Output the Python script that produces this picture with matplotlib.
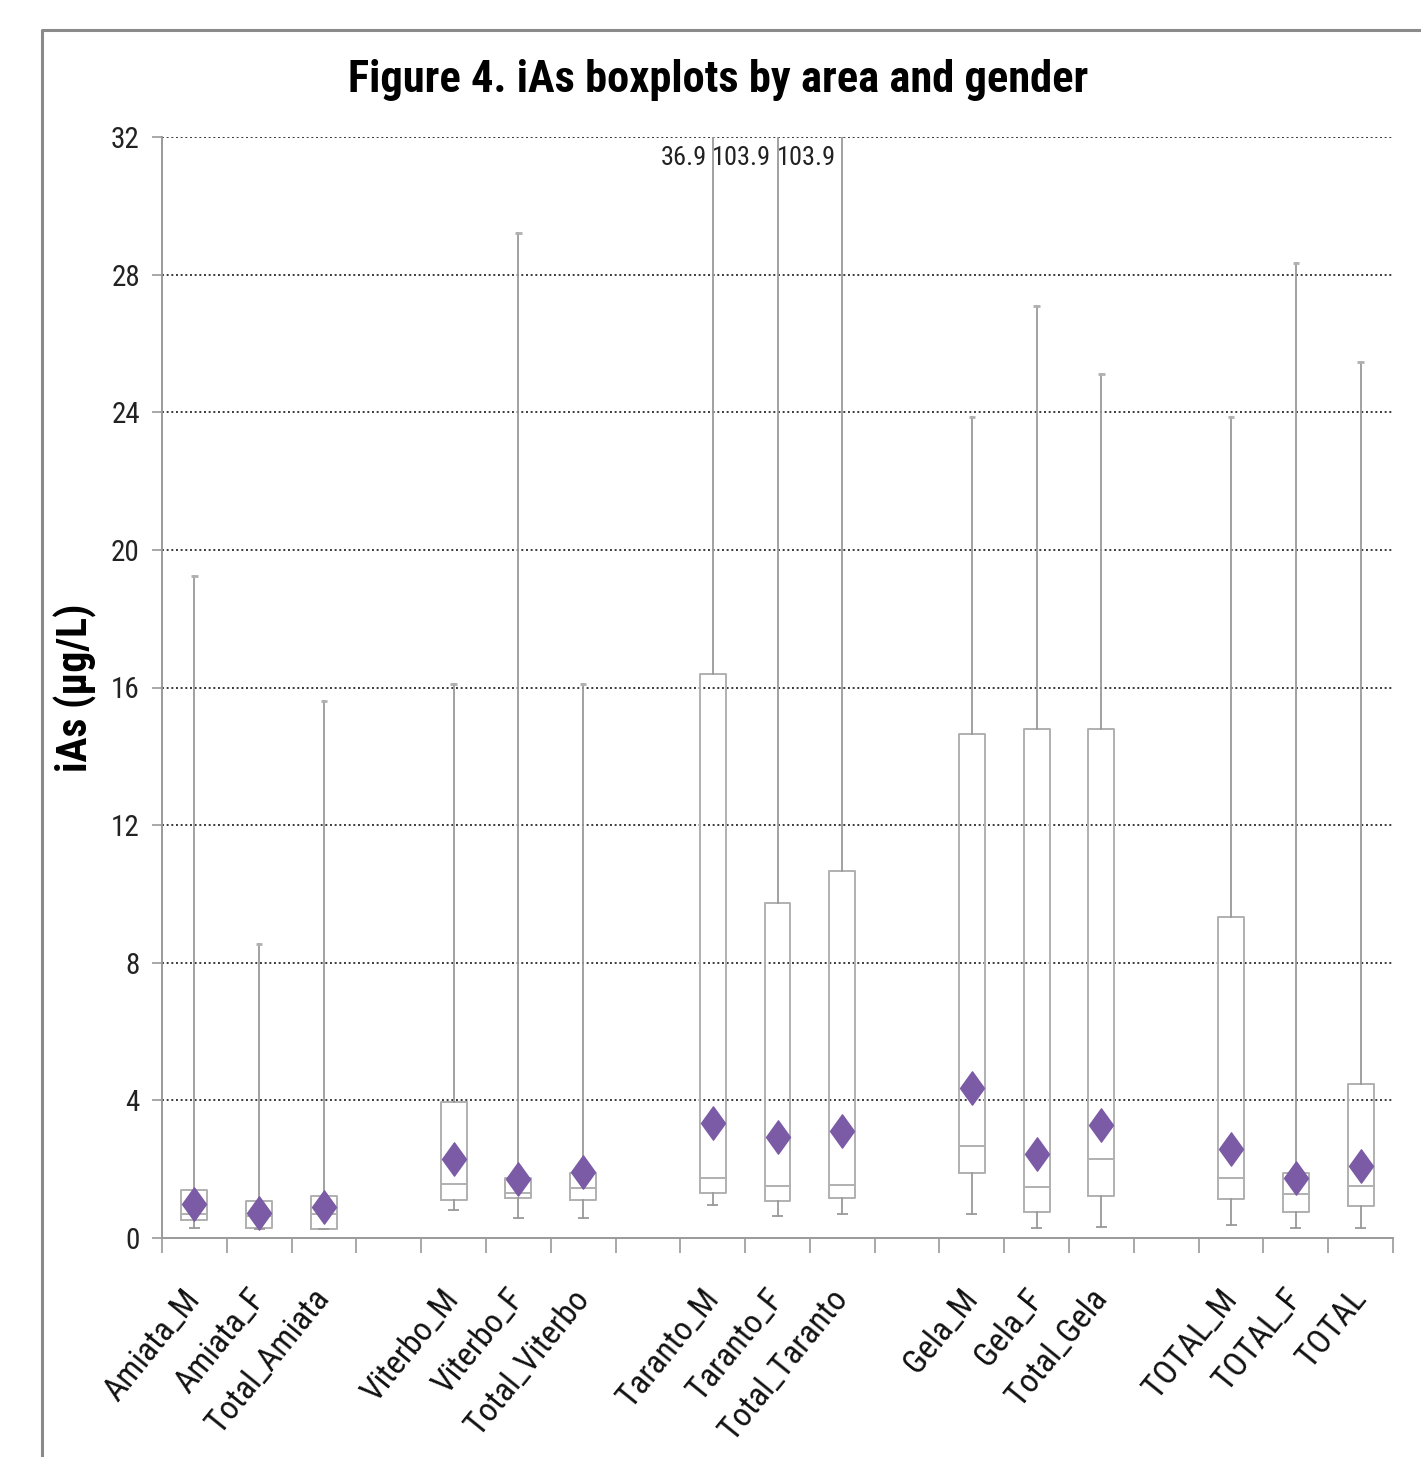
import matplotlib
matplotlib.use("Agg")
import matplotlib.pyplot as plt
from matplotlib import font_manager
from matplotlib.lines import Line2D
from matplotlib.path import Path

# ---------------- data ----------------
categories = ["Amiata_M", "Amiata_F", "Total_Amiata",
              "Viterbo_M", "Viterbo_F", "Total_Viterbo",
              "Taranto_M", "Taranto_F", "Total_Taranto",
              "Gela_M", "Gela_F", "Total_Gela",
              "TOTAL_M", "TOTAL_F", "TOTAL"]
whisker_low = [0.29, 0.27, 0.27, 0.80, 0.58, 0.58, 0.95, 0.64, 0.69,
               0.69, 0.29, 0.32, 0.39, 0.29, 0.29]
q1 = [0.52, 0.29, 0.27, 1.10, 1.15, 1.10, 1.32, 1.08, 1.16,
      1.90, 0.76, 1.23, 1.12, 0.75, 0.93]
median = [0.69, 0.64, 0.69, 1.56, 1.31, 1.46, 1.73, 1.52, 1.55,
          2.66, 1.49, 2.31, 1.73, 1.27, 1.51]
q3 = [1.39, 1.08, 1.22, 3.95, 1.73, 1.90, 16.4, 9.75, 10.68,
      14.65, 14.8, 14.8, 9.34, 1.90, 4.48]
whisker_high = [19.25, 8.55, 15.6, 16.1, 29.2, 16.1, 36.9, 103.9, 103.9,
                23.85, 27.1, 25.1, 23.85, 28.35, 25.45]
mean = [1.00, 0.74, 0.89, 2.29, 1.72, 1.93, 3.34, 2.95, 3.12,
        4.36, 2.45, 3.29, 2.59, 1.75, 2.10]
yticks = [0, 4, 8, 12, 16, 20, 24, 28, 32]
clipped_labels = {6: "36.9", 7: "103.9", 8: "103.9"}

# ---------------- fonts ----------------
names = {f.name for f in font_manager.fontManager.ttflist}
FONT = "DejaVu Sans"
for cand in ["Liberation Sans Narrow", "Roboto Condensed", "Open Sans Condensed",
             "Lato", "Open Sans"]:
    if cand in names:
        FONT = cand
        break
plt.rcParams["font.family"] = [FONT, "DejaVu Sans"]

# positions with a one-slot gap between the groups
positions = []
p = 0
for i in range(len(categories)):
    if i > 0 and i % 3 == 0:
        p += 1
    positions.append(p)
    p += 1
n_slots = positions[-1] + 1

W, H = 1421, 1457
fig = plt.figure(figsize=(W / 100, H / 100), dpi=100)
ax = fig.add_axes([162 / W, 1 - 1238 / H, (1393 - 162) / W, (1238 - 137) / H])

GRAY = "#9a9a9a"
BOXC = "#b0b0b0"
PURPLE = "#7b5aa6"

stats = []
for i in range(len(categories)):
    stats.append(dict(label=categories[i], whislo=whisker_low[i], q1=q1[i],
                      med=median[i], q3=q3[i], whishi=whisker_high[i],
                      mean=mean[i], fliers=[]))

diamond = Path([(0, 1.0), (0.72, 0), (0, -1.0), (-0.72, 0), (0, 1.0)],
               [Path.MOVETO, Path.LINETO, Path.LINETO, Path.LINETO, Path.CLOSEPOLY])

ax.bxp(stats, positions=positions, widths=0.4, showmeans=True, showcaps=False,
       showfliers=False,
       boxprops=dict(color=BOXC, linewidth=1.4),
       medianprops=dict(color=BOXC, linewidth=1.4),
       whiskerprops=dict(color=GRAY, linewidth=1.3),
       meanprops=dict(marker=diamond, markerfacecolor=PURPLE,
                      markeredgecolor=PURPLE, markersize=24),
       zorder=3)

# whisker caps
for i, x in enumerate(positions):
    ax.hlines(whisker_low[i], x - 0.085, x + 0.085, color=GRAY, lw=1.3, zorder=3)
    ax.hlines(whisker_high[i], x - 0.05, x + 0.05, color="#b0b0b0", lw=2.0, zorder=3)

ax.set_xlim(-0.5, n_slots - 0.5)
ax.set_ylim(0, 32)

# grid
for y in yticks[1:]:
    ax.axhline(y, color="#3a3a3a", lw=1.4, linestyle=(0, (1.0, 1.4)), zorder=1)

ax.set_yticks(yticks)
ax.set_yticklabels([str(v) for v in yticks])
ax.tick_params(axis="y", direction="out", length=7, width=1.2, color=GRAY,
               labelsize=21, pad=9, labelcolor="#222222")

ax.set_xticks(positions)
ax.set_xticklabels(categories, rotation=51, ha="right", va="center",
                   rotation_mode="anchor", fontsize=24, color="#111111")
ax.tick_params(axis="x", which="major", length=0, pad=40)
ax.set_xticks([k - 0.5 for k in range(n_slots + 1)], minor=True)
ax.tick_params(axis="x", which="minor", direction="out", length=11, width=1.2,
               color=GRAY)

for s in ["top", "right"]:
    ax.spines[s].set_visible(False)
for s in ["left", "bottom"]:
    ax.spines[s].set_color(GRAY)
    ax.spines[s].set_linewidth(1.4)

# labels for whiskers beyond the axis
for i, txt in clipped_labels.items():
    ax.annotate(txt, xy=(positions[i], 32), xytext=(-6, -21),
                textcoords="offset pixels", ha="right", va="center",
                fontsize=19, color="#222222")

ax.set_ylabel("iAs (µg/L)", fontsize=30, fontweight="bold")
ax.yaxis.set_label_coords(-0.053, 0.5)

fig.text(718 / W, 1 - 80 / H, "Figure 4. iAs boxplots by area and gender",
         ha="center", va="center", fontsize=32, fontweight="bold", color="#000000")

# outer chart-area border
fig.add_artist(Line2D([42 / W, 42 / W, 1.0], [0.0, 1 - 30 / H, 1 - 30 / H],
                      transform=fig.transFigure, color="#8a8a8a", lw=2.2))

fig.savefig("out.png", dpi=100)
